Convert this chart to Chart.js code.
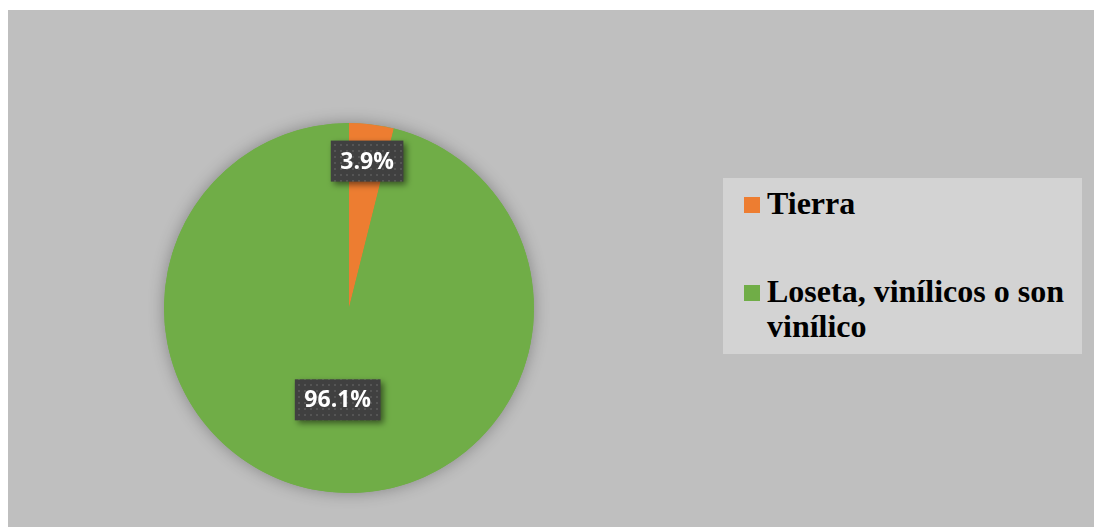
<!DOCTYPE html>
<html>
<head>
<meta charset="utf-8">
<script src="https://cdn.jsdelivr.net/npm/chart.js@4.4.0/dist/chart.umd.min.js"></script>
<style>
    html, body { margin: 0; padding: 0; background: #ffffff; }
    #frame {
        position: absolute;
        left: 8px; top: 10px;
        width: 1086px; height: 517px;
        background: #bfbfbf;
    }
    #chartWrap { position: absolute; left: 0; top: 0; width: 1086px; height: 517px; }
    #legend {
        position: absolute;
        left: 715px; top: 168px;
        width: 359px; height: 176px;
        background: #d3d3d3;
        box-sizing: border-box;
        padding: 8px 0 0 21px;
        font-family: "Liberation Serif", "Times New Roman", serif;
        font-weight: bold;
        font-size: 32px;
        line-height: 35px;
        color: #000;
    }
    .item { display: flex; align-items: flex-start; margin-bottom: 53px; }
    .swatch { width: 16px; height: 16px; margin-top: 11px; margin-right: 7px; flex: none; }
    .text { width: 305px; }
</style>
</head>
<body>
<div id="frame">
    <div id="chartWrap"><canvas id="pieChart"></canvas></div>
    <div id="legend"></div>
</div>
<script>
// Floor type shares (%)
const labels = ['Tierra', 'Loseta, vinílicos o son vinílico'];
const values = [3.9, 96.1];
const colors = ['#ed7d31', '#70ad47'];
// where each value box sits, as a fraction of the radius
const labelRadius = [0.8, 0.5];

document.addEventListener('DOMContentLoaded', function() {
    buildLegend();
    createPieChart(document.getElementById('pieChart'));
});

function buildLegend() {
    const legend = document.getElementById('legend');
    labels.forEach((label, i) => {
        const item = document.createElement('div');
        item.className = 'item';
        const sw = document.createElement('span');
        sw.className = 'swatch';
        sw.style.background = colors[i];
        const txt = document.createElement('span');
        txt.className = 'text';
        txt.textContent = label;
        item.appendChild(sw);
        item.appendChild(txt);
        legend.appendChild(item);
    });
}

// dark dotted fill for the value boxes
function dotPattern(ctx) {
    const c = document.createElement('canvas');
    c.width = 6; c.height = 6;
    const p = c.getContext('2d');
    p.fillStyle = '#404040';
    p.fillRect(0, 0, 6, 6);
    p.fillStyle = '#555555';
    p.fillRect(2, 2, 2, 2);
    return ctx.createPattern(c, 'repeat');
}

// soft shadow behind the whole pie
const pieShadow = {
    id: 'pieShadow',
    beforeDatasetsDraw(chart) {
        const arc = chart.getDatasetMeta(0).data[0];
        if (!arc) return;
        const { x, y, outerRadius } = arc.getProps(['x', 'y', 'outerRadius'], true);
        const ctx = chart.ctx;
        ctx.save();
        ctx.shadowColor = 'rgba(0, 0, 0, 0.3)';
        ctx.shadowBlur = 16;
        ctx.fillStyle = colors[1];
        ctx.beginPath();
        ctx.arc(x, y, outerRadius, 0, Math.PI * 2);
        ctx.fill();
        ctx.restore();
    }
};

// value boxes on each slice
const valueBoxes = {
    id: 'valueBoxes',
    afterDatasetsDraw(chart) {
        const ctx = chart.ctx;
        const fill = dotPattern(ctx);
        const meta = chart.getDatasetMeta(0);
        ctx.save();
        ctx.font = 'bold 23px "Open Sans", sans-serif';
        ctx.textAlign = 'center';
        ctx.textBaseline = 'middle';
        meta.data.forEach((arc, i) => {
            const p = arc.getProps(['x', 'y', 'startAngle', 'endAngle', 'outerRadius'], true);
            const mid = (p.startAngle + p.endAngle) / 2;
            const r = p.outerRadius * labelRadius[i];
            const cx = p.x + Math.cos(mid) * r;
            const cy = p.y + Math.sin(mid) * r;
            const text = values[i].toFixed(1) + '%';
            const w = ctx.measureText(text).width + 19;
            const h = 41;

            ctx.save();
            ctx.shadowColor = 'rgba(0, 0, 0, 0.5)';
            ctx.shadowBlur = 6;
            ctx.shadowOffsetX = 3;
            ctx.shadowOffsetY = 3;
            ctx.fillStyle = fill;
            ctx.fillRect(cx - w / 2, cy - h / 2, w, h);
            ctx.restore();

            ctx.fillStyle = '#ffffff';
            ctx.fillText(text, cx, cy + 1);
        });
        ctx.restore();
    }
};

function createPieChart(ctx) {
    new Chart(ctx, {
        type: 'pie',
        data: {
            labels: labels,
            datasets: [{
                data: values,
                backgroundColor: colors,
                borderWidth: 0
            }]
        },
        options: {
            responsive: true,
            maintainAspectRatio: false,
            animation: false,
            layout: {
                padding: { top: 113, bottom: 34, left: 156, right: 560 }
            },
            plugins: {
                legend: { display: false },
                tooltip: { enabled: false }
            }
        },
        plugins: [pieShadow, valueBoxes]
    });
}
</script>
</body>
</html>
